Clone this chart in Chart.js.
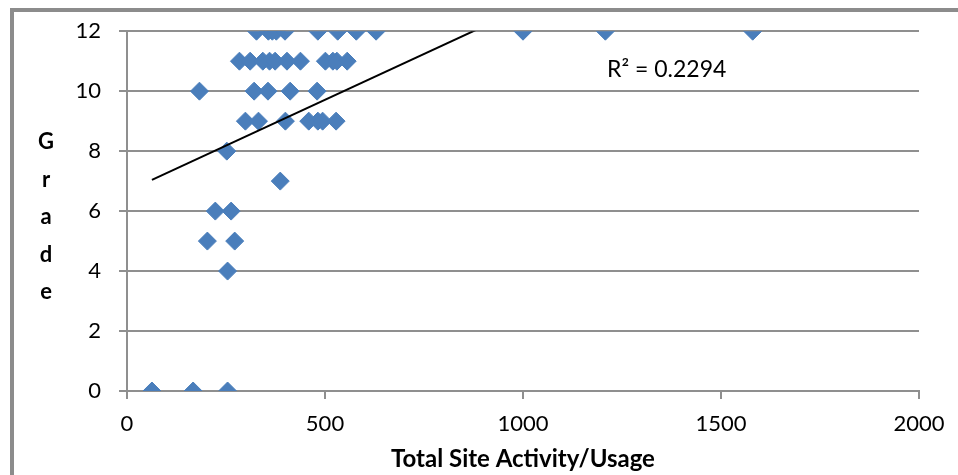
<!DOCTYPE html>
<html>
<head>
<meta charset="utf-8">
<script src="https://cdn.jsdelivr.net/npm/chart.js@4.4.0/dist/chart.umd.min.js"></script>
<style>
  body { margin: 0; background: #fff; }
  #frame { position: absolute; left: 10px; top: 8px; width: 2000px; height: 2000px;
           border-left: 4px solid #8c8c8c; border-top: 4px solid #8c8c8c; }
  #myChart { position: absolute; left: 0; top: 0; }
</style>
</head>
<body>
<div id="frame"></div>
<canvas id="myChart" width="958" height="475"></canvas>
<script>
// site activity (x) and grade (y)
let usage12 = [327, 357, 367, 377, 399, 482, 532, 579, 629, 1000, 1208, 1580];
let usage11 = [284, 311, 343, 360, 374, 404, 438, 501, 520, 530, 556];
let usage10 = [183, 321, 356, 412, 480];
let usage9  = [299, 332, 400, 459, 482, 494, 528];
let usage8  = [252];
let usage7  = [387];
let usage6  = [223, 263];
let usage5  = [203, 272];
let usage4  = [254];
let usage0  = [63, 167, 254];

let xTicks = [0, 500, 1000, 1500, 2000];
let yTicks = [0, 2, 4, 6, 8, 10, 12];
let r2text = 'R\u00B2 = 0.2294';
let xTitle = 'Total Site Activity/Usage';
let yTitle = 'Grade';

let groups = [[12, usage12], [11, usage11], [10, usage10], [9, usage9], [8, usage8],
              [7, usage7], [6, usage6], [5, usage5], [4, usage4], [0, usage0]];
let points = [];
groups.forEach(function (g) {
  g[1].forEach(function (u) { points.push({ x: u, y: g[0] }); });
});

// linear trendline, least squares
let n = points.length, sx = 0, sy = 0, sxx = 0, sxy = 0;
points.forEach(function (p) { sx += p.x; sy += p.y; sxx += p.x * p.x; sxy += p.x * p.y; });
let slope = (n * sxy - sx * sy) / (n * sxx - sx * sx);
let icpt = (sy - slope * sx) / n;
let minX = Math.min.apply(null, points.map(p => p.x));
let maxX = Math.max.apply(null, points.map(p => p.x));
let trend = [{ x: minX, y: icpt + slope * minX }, { x: maxX, y: icpt + slope * maxX }];

const gridColor = '#8f8f8f';
const fontName = 'Lato';

// stacked "Grade" letters and the R² label
const extraText = {
  id: 'extraText',
  afterDraw(chart) {
    const ctx = chart.ctx;
    ctx.save();
    ctx.fillStyle = '#000';
    ctx.textAlign = 'center';
    ctx.textBaseline = 'middle';
    ctx.font = 'bold 22px ' + fontName;
    yTitle.split('').forEach(function (ch, i) {
      ctx.fillText(ch, 46, 142 + i * 37.5);
    });
    ctx.font = '23px ' + fontName;
    ctx.textAlign = 'left';
    ctx.fillText(r2text, 607, 70);
    ctx.restore();
  }
};

new Chart(document.getElementById('myChart'), {
  type: 'scatter',
  data: {
    datasets: [{
      label: 'Grade',
      data: points,
      pointStyle: 'rectRot',
      pointRadius: 9,
      pointBorderWidth: 1,
      backgroundColor: '#4a7ebb',
      borderColor: '#4a7ebb',
      order: 2
    }, {
      type: 'line',
      label: 'Linear',
      data: trend,
      borderColor: '#000',
      borderWidth: 2,
      pointRadius: 0,
      fill: false,
      order: 1
    }]
  },
  options: {
    responsive: false,
    animation: false,
    layout: { padding: { left: 0, right: 39, top: 31, bottom: 0 } },
    plugins: { legend: { display: false }, tooltip: { enabled: false } },
    scales: {
      x: {
        type: 'linear',
        min: 0, max: 2000,
        afterBuildTicks: function (s) { s.ticks = xTicks.map(v => ({ value: v })); },
        afterFit: function (s) { s.height = 84; },
        grid: { drawOnChartArea: false, color: gridColor, lineWidth: 2, tickLength: 8 },
        border: { color: gridColor, width: 2 },
        ticks: { color: '#000', font: { family: fontName, size: 22 }, padding: 12, maxRotation: 0,
                 callback: function (v) { return String(v); } },
        title: { display: true, text: xTitle, color: '#000',
                 font: { family: fontName, size: 24, weight: 'bold' }, padding: { top: 0, bottom: 1 } }
      },
      y: {
        min: 0, max: 12,
        afterBuildTicks: function (s) { s.ticks = yTicks.map(v => ({ value: v })); },
        afterFit: function (s) { s.width = 127; },
        grid: { color: gridColor, lineWidth: 2, tickLength: 8 },
        border: { color: gridColor, width: 2 },
        ticks: { color: '#000', font: { family: fontName, size: 22 }, padding: 18 }
      }
    }
  },
  plugins: [extraText]
});
</script>
</body>
</html>
